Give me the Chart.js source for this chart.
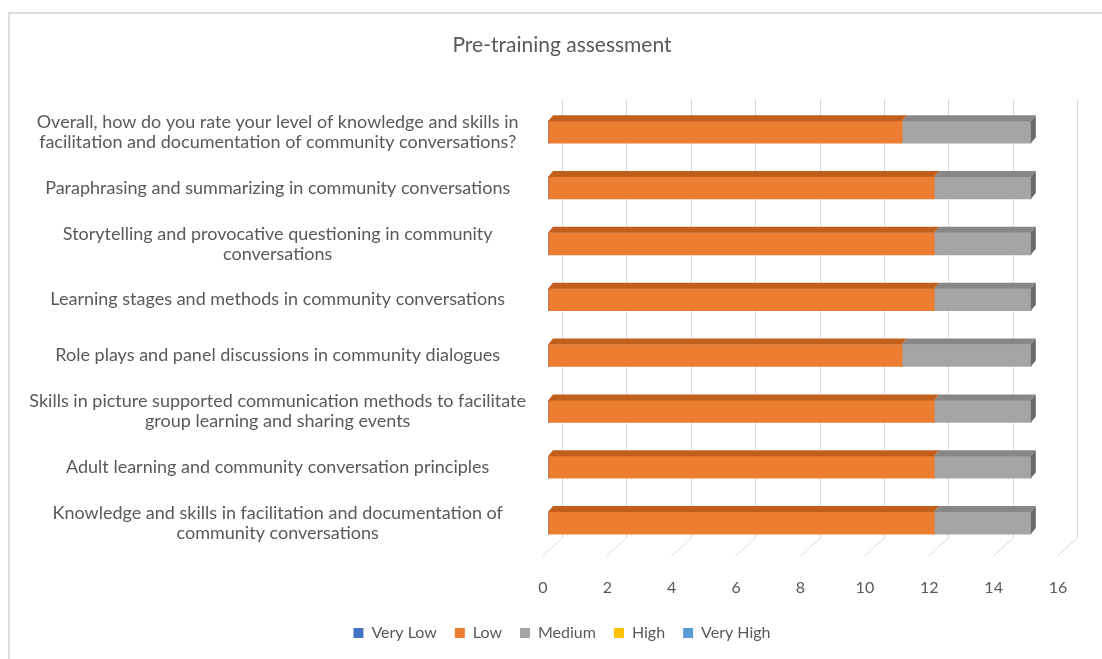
<!DOCTYPE html>
<html>
<head>
<meta charset="utf-8">
<script src="https://cdn.jsdelivr.net/npm/chart.js@4.4.1/dist/chart.umd.min.js"></script>
<style>
	html, body { margin: 0; padding: 0; background: #fff; }
	#wrap { position: relative; width: 1102px; height: 659px; overflow: hidden; }
	#frame { position: absolute; left: 8px; top: 12px; width: 1200px; height: 700px;
		border-left: 2px solid #dedede; border-top: 2px solid #dedede; }
	canvas { position: absolute; left: 0; top: 0; }
</style>
</head>
<body>
<div id="wrap">
	<div id="frame"></div>
	<canvas id="assessment-chart" width="1102" height="659"></canvas>
</div>
<script>
// categories, top to bottom
var categories = [
	["Overall, how do you rate your level of knowledge and skills in", "facilitation and documentation of community conversations?"],
	"Paraphrasing and summarizing in community conversations",
	["Storytelling and provocative questioning in community", "conversations"],
	"Learning stages and methods in community conversations",
	"Role plays and panel discussions in community dialogues",
	["Skills in picture supported communication methods to facilitate", "group learning and sharing events"],
	"Adult learning and community conversation principles",
	["Knowledge and skills in facilitation and documentation of", "community conversations"]
];

var seriesNames = ["Very Low", "Low", "Medium", "High", "Very High"];
var veryLow  = [0, 0, 0, 0, 0, 0, 0, 0];
var low      = [11, 12, 12, 12, 11, 12, 12, 12];
var medium   = [4, 3, 3, 3, 4, 3, 3, 3];
var high     = [0, 0, 0, 0, 0, 0, 0, 0];
var veryHigh = [0, 0, 0, 0, 0, 0, 0, 0];

var xMin = 0, xMax = 16, xStep = 2;

var seriesColors = ["#4472c4", "#ed7d31", "#a5a5a5", "#ffc000", "#5b9bd5"];
var topColors    = ["#2f5597", "#c35f1c", "#878787", "#c79600", "#3f7cb4"];
var sideColor    = "#6a6a6a";
var textColor    = "#595959";

// fake 3d look: back grid + floor lines, and top / end faces on bars
var threeD = {
	id: 'threeD',
	afterLayout (chart) {
		// title and legend sit a bit right of the canvas centre
		chart.titleBlock.left = 61;
		chart.legend.left = 61;
	},
	beforeDatasetsDraw (chart) {
		var ctx = chart.ctx, a = chart.chartArea, x = chart.scales.x;
		ctx.save();
		ctx.strokeStyle = '#d9d9d9';
		ctx.lineWidth = 1;
		x.ticks.forEach(function (t) {
			var px = Math.round(x.getPixelForValue(t.value)) + 0.5;
			ctx.beginPath();
			ctx.moveTo(px + 14, a.top - 5);
			ctx.lineTo(px + 14, a.bottom - 13);
			ctx.lineTo(px - 6, a.bottom + 5);
			ctx.stroke();
		});
		ctx.restore();
	},
	afterDatasetsDraw (chart) {
		var ctx = chart.ctx, dx = 5, dy = 6;
		ctx.save();
		chart.data.datasets.forEach(function (ds, di) {
			chart.getDatasetMeta(di).data.forEach(function (bar, i) {
				if (!ds.data[i]) return;
				var p = bar.getProps(['x', 'y', 'base', 'height'], true);
				var top = p.y - p.height / 2;
				ctx.fillStyle = topColors[di];
				ctx.beginPath();
				ctx.moveTo(p.base, top);
				ctx.lineTo(p.base + dx, top - dy);
				ctx.lineTo(p.x + dx, top - dy);
				ctx.lineTo(p.x, top);
				ctx.closePath();
				ctx.fill();
			});
		});
		// end face on the last non-empty segment of each bar
		categories.forEach(function (c, i) {
			for (var di = chart.data.datasets.length - 1; di >= 0; di--) {
				if (chart.data.datasets[di].data[i]) {
					var p = chart.getDatasetMeta(di).data[i].getProps(['x', 'y', 'base', 'height'], true);
					var top = p.y - p.height / 2, bot = p.y + p.height / 2;
					ctx.fillStyle = sideColor;
					ctx.beginPath();
					ctx.moveTo(p.x, top);
					ctx.lineTo(p.x + dx, top - dy);
					ctx.lineTo(p.x + dx, bot - dy);
					ctx.lineTo(p.x, bot);
					ctx.closePath();
					ctx.fill();
					break;
				}
			}
		});
		ctx.restore();
	}
};

var seriesData = [veryLow, low, medium, high, veryHigh];

new Chart('assessment-chart', {
	type: 'bar',
	data: {
		labels: categories,
		datasets: seriesNames.map(function (name, k) {
			return {
				label: name,
				data: seriesData[k],
				backgroundColor: seriesColors[k],
				borderWidth: 0,
				barThickness: 22
			};
		})
	},
	options: {
		indexAxis: 'y',
		responsive: false,
		animation: false,
		layout: { padding: { left: 0, right: 39, top: 0, bottom: 8 } },
		scales: {
			x: {
				stacked: true,
				min: xMin,
				max: xMax,
				grid: { display: false },
				border: { display: false },
				ticks: {
					stepSize: xStep,
					color: textColor,
					labelOffset: -5,
					padding: 19,
					font: { family: 'Lato', size: 16 }
				},
				afterFit: function (s) { s.height = 56; }
			},
			y: {
				stacked: true,
				grid: { display: false },
				border: { display: false },
				ticks: {
					crossAlign: 'center',
					padding: 14,
					color: textColor,
					font: { family: 'Lato', size: 18, lineHeight: 1.12 }
				},
				afterFit: function (s) { s.width = 548; }
			}
		},
		plugins: {
			title: {
				display: true,
				text: 'Pre-training assessment',
				color: textColor,
				font: { family: 'Lato', size: 21, weight: 'normal' },
				padding: { top: 33, bottom: 46 }
			},
			legend: {
				position: 'bottom',
				labels: {
					boxWidth: 10,
					boxHeight: 10,
					padding: 18,
					color: textColor,
					font: { family: 'Lato', size: 16 }
				}
			},
			tooltip: { enabled: false }
		}
	},
	plugins: [threeD]
});
</script>
</body>
</html>
